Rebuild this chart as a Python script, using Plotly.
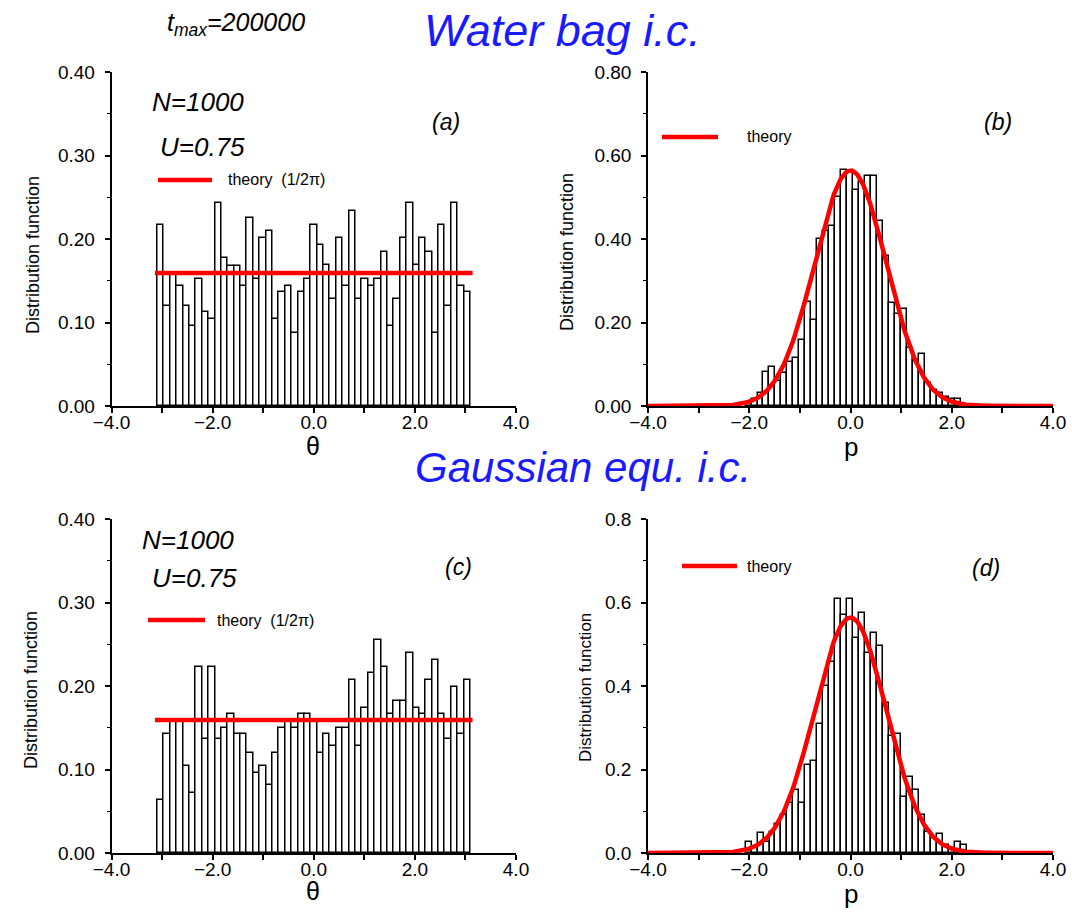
import numpy as np
import plotly.graph_objects as go

# ---------------- data ----------------
# angle histograms (49 bins between theta_lo and theta_hi)
theta_lo, theta_hi = -3.09, 3.10
theta_waterbag = [0.217, 0.120, 0.157, 0.144, 0.120, 0.096, 0.152, 0.112, 0.104, 0.243,
                  0.177, 0.168, 0.168, 0.144, 0.225, 0.152, 0.201, 0.209, 0.104, 0.136,
                  0.144, 0.087, 0.136, 0.152, 0.217, 0.193, 0.169, 0.128, 0.201, 0.144,
                  0.233, 0.128, 0.152, 0.144, 0.152, 0.185, 0.096, 0.128, 0.201, 0.243,
                  0.169, 0.201, 0.185, 0.087, 0.217, 0.120, 0.243, 0.144, 0.136]
theta_gauss = [0.063, 0.142, 0.158, 0.158, 0.104, 0.072, 0.223, 0.136, 0.223, 0.136,
               0.150, 0.166, 0.142, 0.142, 0.120, 0.096, 0.104, 0.081, 0.120, 0.150,
               0.158, 0.150, 0.166, 0.166, 0.158, 0.120, 0.142, 0.128, 0.150, 0.150,
               0.207, 0.128, 0.174, 0.215, 0.255, 0.223, 0.166, 0.182, 0.182, 0.239,
               0.174, 0.166, 0.207, 0.231, 0.166, 0.136, 0.199, 0.142, 0.207]

# momentum histograms (bin width p_bw)
p_bw = 0.118
p_start_waterbag = -2.073
p_waterbag = [0.008, 0.016, 0.030, 0.082, 0.093, 0.060, 0.080, 0.105, 0.114, 0.158,
              0.250, 0.206, 0.400, 0.420, 0.430, 0.500, 0.565, 0.557, 0.517, 0.537,
              0.551, 0.551, 0.444, 0.360, 0.246, 0.220, 0.232, 0.140, 0.110, 0.125,
              0.055, 0.038, 0.030, 0.022, 0.016, 0.016]
p_start_gauss = -2.072
p_gauss = [0.027, 0.012, 0.049, 0.027, 0.050, 0.070, 0.090, 0.120, 0.150, 0.120,
           0.210, 0.220, 0.310, 0.400, 0.457, 0.608, 0.570, 0.608, 0.514, 0.576,
           0.480, 0.528, 0.496, 0.360, 0.280, 0.285, 0.135, 0.183, 0.151, 0.090,
           0.050, 0.035, 0.045, 0.020, 0.012, 0.027, 0.019]

# theory: uniform angle density and Maxwellian momentum at temperature T
T_theory = 0.5
uniform_level = 1.0 / (2.0 * np.pi)

x_ticks = [-4, -2, 0, 2, 4]

# ---------------- figure ----------------
W, H = 1072, 913
FONT = "Liberation Sans"
BLUE = "#1a1aff"
RED = "#ff0000"


def px(x):
    return x / W


def py(y):
    return 1 - y / H


fig = go.Figure()


def add_hist(values, start, width, xa, ya):
    centers = start + width * (np.arange(len(values)) + 0.5)
    fig.add_trace(go.Bar(
        x=centers, y=values, width=width,
        marker=dict(color="white", line=dict(color="black", width=1.5)),
        xaxis=xa, yaxis=ya, showlegend=False, hoverinfo="skip"))


theta_bw = (theta_hi - theta_lo) / len(theta_waterbag)
add_hist(theta_waterbag, theta_lo, theta_bw, "x", "y")
add_hist(p_waterbag, p_start_waterbag, p_bw, "x2", "y2")
add_hist(theta_gauss, theta_lo, theta_bw, "x3", "y3")
add_hist(p_gauss, p_start_gauss, p_bw, "x4", "y4")

# theory curves
pp = np.linspace(-4, 4, 401)
maxwell = np.exp(-pp ** 2 / (2 * T_theory)) / np.sqrt(2 * np.pi * T_theory)
for xa, ya in (("x", "y"), ("x3", "y3")):
    fig.add_trace(go.Scatter(x=[-np.pi, np.pi], y=[uniform_level, uniform_level],
                             mode="lines", line=dict(color=RED, width=4.5),
                             xaxis=xa, yaxis=ya, showlegend=False, hoverinfo="skip"))
for xa, ya in (("x2", "y2"), ("x4", "y4")):
    fig.add_trace(go.Scatter(x=pp, y=maxwell, mode="lines",
                             line=dict(color=RED, width=4.5),
                             xaxis=xa, yaxis=ya, showlegend=False, hoverinfo="skip"))

tickfont = dict(family=FONT, size=19, color="black")


def xaxis_style(domain, anchor):
    return dict(domain=domain, anchor=anchor, range=[-4, 4], automargin=False,
                tickmode="array", tickvals=x_ticks,
                ticktext=[f"{v:.1f}".replace("-", "\u2212") for v in x_ticks],
                ticks="outside", ticklen=5, tickwidth=1.5, tickcolor="black",
                minor=dict(dtick=1, tick0=-4, ticks="outside", ticklen=5,
                           tickwidth=1.5, tickcolor="black"),
                ticklabelposition="outside", ticklabelstandoff=-7,
                showline=True, linecolor="black", linewidth=1.5,
                showgrid=False, zeroline=False, tickfont=tickfont,
                fixedrange=True)


def yaxis_style(domain, anchor, top, step, fmt):
    return dict(domain=domain, anchor=anchor, range=[0, top], automargin=False,
                tickmode="linear", tick0=0, dtick=step, tickformat=fmt,
                ticks="outside", ticklen=5, tickwidth=1.5, tickcolor="black",
                minor=dict(dtick=step / 2, ticks="outside", ticklen=3,
                           tickwidth=1.2, tickcolor="black"),
                ticklabelstandoff=6,
                showline=True, linecolor="black", linewidth=1.5,
                showgrid=False, zeroline=False, tickfont=tickfont,
                fixedrange=True)


xa_left = [px(111.5), px(516)]
xa_right = [px(648), px(1053)]
ya_top = [py(406), py(72)]
ya_bot = [py(853), py(519)]

fig.update_layout(
    width=W, height=H,
    margin=dict(l=0, r=0, t=0, b=0, autoexpand=False),
    paper_bgcolor="white", plot_bgcolor="white",
    bargap=0, barmode="overlay",
    xaxis=xaxis_style(xa_left, "y"),
    yaxis=yaxis_style(ya_top, "x", 0.4, 0.1, ".2f"),
    xaxis2=xaxis_style(xa_right, "y2"),
    yaxis2=yaxis_style(ya_top, "x2", 0.8, 0.2, ".2f"),
    xaxis3=xaxis_style(xa_left, "y3"),
    yaxis3=yaxis_style(ya_bot, "x3", 0.4, 0.1, ".2f"),
    xaxis4=xaxis_style(xa_right, "y4"),
    yaxis4=yaxis_style(ya_bot, "x4", 0.8, 0.2, ".1f"),
)

annotations = []
shapes = []


def text(x, y, s, size, color="black", xanchor="center", angle=0, italic=False):
    if italic:
        s = f"<i>{s}</i>"
    annotations.append(dict(x=px(x), y=py(y), xref="paper", yref="paper", text=s,
                            showarrow=False, xanchor=xanchor, yanchor="middle",
                            textangle=angle,
                            font=dict(family=FONT, size=size, color=color)))


def legend_line(x0, x1, y):
    shapes.append(dict(type="line", xref="paper", yref="paper",
                       x0=px(x0), x1=px(x1), y0=py(y), y1=py(y),
                       line=dict(color=RED, width=4.5)))


# headings
text(165, 24, "t<sub>max</sub>=200000", 25, xanchor="left", italic=True)
text(562, 30, "Water bag i.c.", 45, color=BLUE, italic=True)
text(583, 468, "Gaussian equ. i.c.", 42, color=BLUE, italic=True)

# panel (a)
text(150, 102, "N=1000", 26, xanchor="left", italic=True)
text(158, 147, "U=0.75", 26, xanchor="left", italic=True)
text(446, 122, "(a)", 23, italic=True)
legend_line(158, 212, 180)
text(226, 180, "theory  (1/2\u03c0)", 16, xanchor="left")

# panel (b)
text(998, 122, "(b)", 23, italic=True)
legend_line(662, 718, 137)
text(745, 137, "theory", 16, xanchor="left")

# panel (c)
text(140, 540, "N=1000", 26, xanchor="left", italic=True)
text(150, 578, "U=0.75", 26, xanchor="left", italic=True)
text(458, 567, "(c)", 23, italic=True)
legend_line(148, 205, 620)
text(215, 620, "theory  (1/2\u03c0)", 16, xanchor="left")

# panel (d)
text(986, 568, "(d)", 23, italic=True)
legend_line(682, 737, 566)
text(745, 566, "theory", 16, xanchor="left")

# axis titles
text(313, 446, "\u03b8", 25)
text(851, 447, "p", 26)
text(313, 891, "\u03b8", 25)
text(851, 894, "p", 26)
text(33, 255, "Distribution function", 18, angle=-90)
text(567, 252, "Distribution function", 18, angle=-90)
text(31, 690, "Distribution function", 18, angle=-90)
text(585, 688, "Distribution function", 17, angle=-90)

fig.update_layout(annotations=annotations, shapes=shapes)

fig.write_html("out.html")
